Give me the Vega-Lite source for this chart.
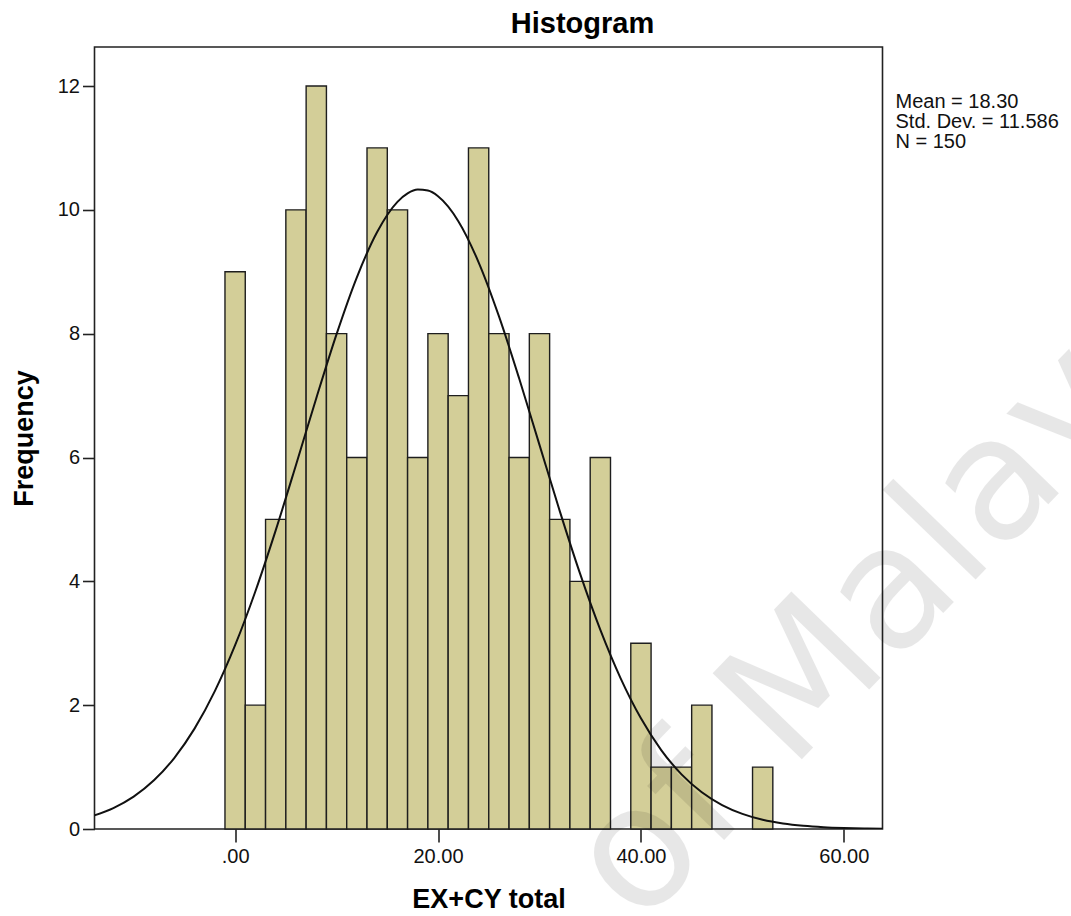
{
  "$schema": "https://vega.github.io/schema/vega-lite/v6.json",
  "width": 788,
  "height": 782,
  "autosize": "none",
  "padding": {"left": 94.5, "top": 47, "right": 188.5, "bottom": 87},
  "background": "white",
  "config": {
    "view": {"fill": "#F0F0F0", "stroke": "#222222", "strokeWidth": 1.6},
    "font": "Liberation Sans"
  },
  "title": {
    "text": "Histogram",
    "fontSize": 29,
    "font": "Liberation Sans",
    "fontWeight": "bold",
    "color": "#000000",
    "anchor": "middle",
    "dx": 94,
    "offset": 8
  },
  "datasets": {
    "bins": [
      {"bin_start": -1, "bin_end": 1, "count": 9},
      {"bin_start": 1, "bin_end": 3, "count": 2},
      {"bin_start": 3, "bin_end": 5, "count": 5},
      {"bin_start": 5, "bin_end": 7, "count": 10},
      {"bin_start": 7, "bin_end": 9, "count": 12},
      {"bin_start": 9, "bin_end": 11, "count": 8},
      {"bin_start": 11, "bin_end": 13, "count": 6},
      {"bin_start": 13, "bin_end": 15, "count": 11},
      {"bin_start": 15, "bin_end": 17, "count": 10},
      {"bin_start": 17, "bin_end": 19, "count": 6},
      {"bin_start": 19, "bin_end": 21, "count": 8},
      {"bin_start": 21, "bin_end": 23, "count": 7},
      {"bin_start": 23, "bin_end": 25, "count": 11},
      {"bin_start": 25, "bin_end": 27, "count": 8},
      {"bin_start": 27, "bin_end": 29, "count": 6},
      {"bin_start": 29, "bin_end": 31, "count": 8},
      {"bin_start": 31, "bin_end": 33, "count": 5},
      {"bin_start": 33, "bin_end": 35, "count": 4},
      {"bin_start": 35, "bin_end": 37, "count": 6},
      {"bin_start": 39, "bin_end": 41, "count": 3},
      {"bin_start": 41, "bin_end": 43, "count": 1},
      {"bin_start": 43, "bin_end": 45, "count": 1},
      {"bin_start": 45, "bin_end": 47, "count": 2},
      {"bin_start": 51, "bin_end": 53, "count": 1}
    ],
    "curve": [
      {"x": -14, "y": 0.212}, {"x": -12, "y": 0.338}, {"x": -10, "y": 0.523},
      {"x": -8, "y": 0.786}, {"x": -6, "y": 1.146}, {"x": -4, "y": 1.621},
      {"x": -2, "y": 2.226}, {"x": 0, "y": 2.968}, {"x": 2, "y": 3.840},
      {"x": 4, "y": 4.823}, {"x": 6, "y": 5.880}, {"x": 8, "y": 6.958},
      {"x": 10, "y": 7.993}, {"x": 12, "y": 8.911}, {"x": 14, "y": 9.642},
      {"x": 16, "y": 10.129}, {"x": 17, "y": 10.265}, {"x": 18, "y": 10.327},
      {"x": 19, "y": 10.311}, {"x": 20, "y": 10.219}, {"x": 22, "y": 9.817},
      {"x": 24, "y": 9.153}, {"x": 26, "y": 8.283}, {"x": 28, "y": 7.276},
      {"x": 30, "y": 6.204}, {"x": 32, "y": 5.134}, {"x": 34, "y": 4.124},
      {"x": 36, "y": 3.216}, {"x": 38, "y": 2.434}, {"x": 40, "y": 1.788},
      {"x": 42, "y": 1.275}, {"x": 44, "y": 0.883}, {"x": 46, "y": 0.593},
      {"x": 48, "y": 0.387}, {"x": 50, "y": 0.245}, {"x": 52, "y": 0.150},
      {"x": 54, "y": 0.090}, {"x": 56, "y": 0.052}, {"x": 58, "y": 0.029},
      {"x": 60, "y": 0.016}, {"x": 62, "y": 0.008}, {"x": 64, "y": 0.004}
    ],
    "stats": [
      {"stat": "Mean = 18.30"},
      {"stat": "Std. Dev. = 11.586"},
      {"stat": "N = 150"}
    ],
    "watermark": [
      {"label": "of Malaya"}
    ]
  },
  "layer": [
    {
      "data": {"name": "bins"},
      "mark": {"type": "bar", "fill": "#D3CE98", "stroke": "#1e1e1e", "strokeWidth": 1.4},
      "encoding": {
        "x": {
          "field": "bin_start",
          "type": "quantitative",
          "scale": {"domain": [-13.86, 63.81], "nice": false, "zero": false},
          "axis": {
            "values": [0, 20, 40, 60],
            "labelExpr": "datum.value == 0 ? '.00' : format(datum.value, '.2f')",
            "title": "EX+CY total",
            "grid": false,
            "domain": false,
            "tickSize": 13,
            "tickWidth": 1.6,
            "tickColor": "#222222",
            "labelFontSize": 20,
            "labelFont": "Liberation Sans",
            "labelColor": "#111111",
            "labelPadding": 4,
            "labelFlush": false,
            "titleFontSize": 27,
            "titleFont": "Liberation Sans",
            "titleFontWeight": "bold",
            "titleColor": "#000000",
            "titlePadding": 20
          }
        },
        "x2": {"field": "bin_end"},
        "y": {
          "field": "count",
          "type": "quantitative",
          "scale": {"domain": [0, 12.63], "nice": false},
          "axis": {
            "values": [0, 2, 4, 6, 8, 10, 12],
            "format": "d",
            "title": "Frequency",
            "grid": false,
            "domain": false,
            "tickSize": 12,
            "tickWidth": 1.6,
            "tickColor": "#222222",
            "labelFontSize": 20,
            "labelFont": "Liberation Sans",
            "labelColor": "#111111",
            "labelPadding": 3,
            "titleFontSize": 27,
            "titleFont": "Liberation Sans",
            "titleFontWeight": "bold",
            "titleColor": "#000000",
            "titlePadding": 19
          }
        },
        "y2": {"datum": 0}
      }
    },
    {
      "data": {"name": "curve"},
      "mark": {"type": "line", "color": "#111111", "strokeWidth": 2, "interpolate": "monotone", "clip": true},
      "encoding": {
        "x": {"field": "x", "type": "quantitative"},
        "y": {"field": "y", "type": "quantitative"}
      }
    },
    {
      "data": {"name": "stats"},
      "mark": {"type": "point", "opacity": 0},
      "encoding": {
        "color": {
          "field": "stat",
          "type": "nominal",
          "scale": {"domain": ["Mean = 18.30", "Std. Dev. = 11.586", "N = 150"], "range": ["#000000", "#000000", "#000000"]},
          "legend": {
            "orient": "none",
            "legendX": 781,
            "legendY": 45,
            "title": null,
            "symbolSize": 0,
            "symbolOpacity": 0,
            "symbolStrokeWidth": 0,
            "labelFontSize": 20,
            "labelFont": "Liberation Sans",
            "labelColor": "#111111",
            "labelOffset": 0,
            "rowPadding": -5,
            "padding": 0,
            "labelLimit": 300
          }
        }
      }
    },
    {
      "data": {"name": "watermark"},
      "mark": {"type": "text", "font": "DejaVu Sans", "fontSize": 170, "angle": -46, "align": "left", "baseline": "alphabetic", "fill": "#000000", "opacity": 0.09},
      "encoding": {
        "x": {"datum": 39.8, "type": "quantitative"},
        "y": {"datum": -1.6, "type": "quantitative"},
        "text": {"field": "label"}
      }
    }
  ]
}
